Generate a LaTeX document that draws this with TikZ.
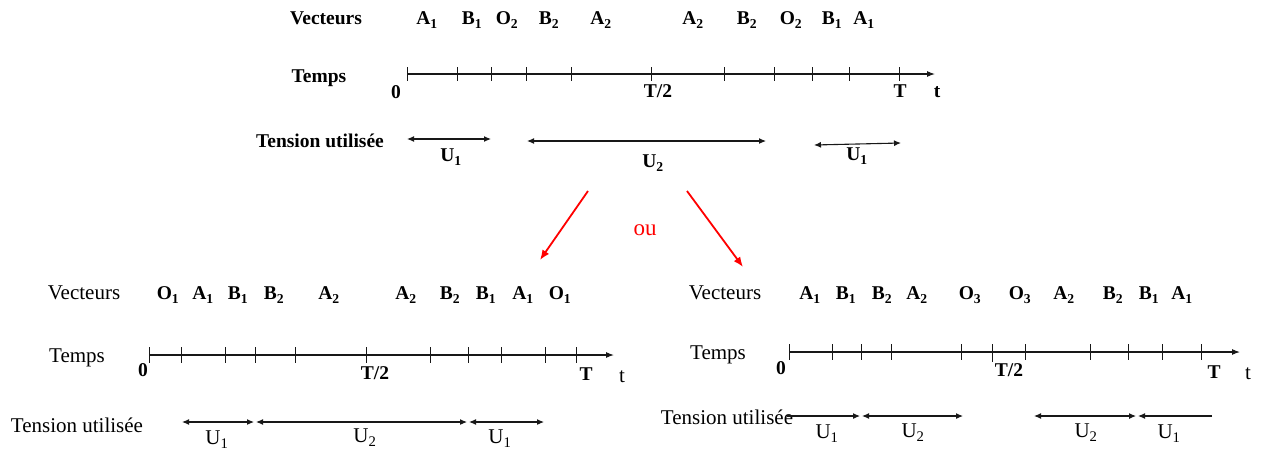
\documentclass[tikz,border=0pt]{standalone}
\usepackage{fontspec}
\setmainfont{Liberation Serif}
\usetikzlibrary{arrows.meta}
\definecolor{diagcolor0001}{RGB}{255,0,0}
\definecolor{diagcolor0002}{RGB}{24,24,24}
\newcommand{\idx}[1]{\textsubscript{\raisebox{-0.25ex}{#1}}}

\begin{document}
\begin{tikzpicture}[yscale=-1
,pstyle0/.style={color=diagcolor0002,line width=1.1pt,-{Latex[length=8pt,width=6pt]}}
,pstyle1/.style={color=diagcolor0002,line width=0.9pt}
,pstyle2/.style={color=diagcolor0002,line width=1.1pt,{Latex[length=7pt,width=6pt]}-{Latex[length=7pt,width=6pt]}}
,pstyle3/.style={color=diagcolor0002,line width=1.1pt,-{Latex[length=7pt,width=6pt]}}
,pstyle4/.style={color=diagcolor0001,line width=1.8pt,-{Latex[length=10pt,width=8pt]}}
,bstyle/.style={anchor=base,inner sep=0,font=\fontsize{19.5}{22}\selectfont\bfseries}
,rstyle/.style={anchor=base,inner sep=0,font=\fontsize{21}{24}\selectfont}
]
\useasboundingbox (0pt,0pt) rectangle (1263pt,450pt);
\node[bstyle] (tvec) at (326pt,24pt) {Vecteurs};
\node[bstyle] (tv1) at (427pt,24pt) {A\idx{1}};
\node[bstyle] (tv2) at (472pt,24pt) {B\idx{1}};
\node[bstyle] (tv3) at (507pt,24pt) {O\idx{2}};
\node[bstyle] (tv4) at (549pt,24pt) {B\idx{2}};
\node[bstyle] (tv5) at (601pt,24pt) {A\idx{2}};
\node[bstyle] (tv6) at (693pt,24pt) {A\idx{2}};
\node[bstyle] (tv7) at (747pt,24pt) {B\idx{2}};
\node[bstyle] (tv8) at (791pt,24pt) {O\idx{2}};
\node[bstyle] (tv9) at (832pt,24pt) {B\idx{1}};
\node[bstyle] (tv10) at (864pt,24pt) {A\idx{1}};
\node[bstyle] (ttemps) at (319pt,82pt) {Temps};
\coordinate (ta0) at (407pt,74pt);
\coordinate (ta1) at (935pt,74pt);
\draw[pstyle0] (ta0) -- (ta1);
\draw[pstyle1] (407pt,67pt) -- (407pt,81pt) (457pt,67pt) -- (457pt,81pt) (491pt,67pt) -- (491pt,81pt) (526pt,67pt) -- (526pt,81pt) (571pt,67pt) -- (571pt,81pt) (651pt,67pt) -- (651pt,81pt) (724pt,67pt) -- (724pt,81pt) (774pt,67pt) -- (774pt,81pt) (812pt,67pt) -- (812pt,81pt) (849pt,67pt) -- (849pt,81pt) (899pt,67pt) -- (899pt,81pt);
\node[bstyle] (tzero) at (396pt,98pt) {0};
\node[bstyle] (thalf) at (658pt,97pt) {T/2};
\node[bstyle] (tend) at (900pt,97pt) {T};
\node[bstyle] (tt) at (937pt,97pt) {t};
\node[bstyle] (tten) at (320pt,147pt) {Tension utilisée};
\coordinate (tu1a) at (407pt,139pt);
\coordinate (tu1b) at (491pt,139pt);
\coordinate (tu2a) at (527pt,141pt);
\coordinate (tu2b) at (766pt,141pt);
\coordinate (tu3a) at (814pt,145pt);
\coordinate (tu3b) at (901pt,143pt);
\draw[pstyle2] (tu1a) -- (tu1b);
\draw[pstyle2] (tu2a) -- (tu2b);
\draw[pstyle2] (tu3a) -- (tu3b);
\node[bstyle] (tu1) at (451pt,161pt) {U\idx{1}};
\node[bstyle] (tu2) at (653pt,167pt) {U\idx{2}};
\node[bstyle] (tu3) at (857pt,160pt) {U\idx{1}};
\coordinate (ra0) at (588pt,191pt);
\coordinate (ra1) at (540pt,260pt);
\coordinate (rb0) at (687pt,191pt);
\coordinate (rb1) at (743pt,267pt);
\draw[pstyle4] (ra0) -- (ra1);
\draw[pstyle4] (rb0) -- (rb1);
\node[anchor=base,inner sep=0,color=diagcolor0001,font=\fontsize{23}{25}\selectfont] (ou) at (645pt,235pt) {ou};
\node[rstyle] (lvec) at (84pt,299pt) {Vecteurs};
\node[bstyle] (lv1) at (168pt,299pt) {O\idx{1}};
\node[bstyle] (lv2) at (203pt,299pt) {A\idx{1}};
\node[bstyle] (lv3) at (238pt,299pt) {B\idx{1}};
\node[bstyle] (lv4) at (274pt,299pt) {B\idx{2}};
\node[bstyle] (lv5) at (329pt,299pt) {A\idx{2}};
\node[bstyle] (lv6) at (406pt,299pt) {A\idx{2}};
\node[bstyle] (lv7) at (450pt,299pt) {B\idx{2}};
\node[bstyle] (lv8) at (486pt,299pt) {B\idx{1}};
\node[bstyle] (lv9) at (523pt,299pt) {A\idx{1}};
\node[bstyle] (lv10) at (560pt,299pt) {O\idx{1}};
\node[rstyle] (ltemps) at (77pt,362pt) {Temps};
\coordinate (la0) at (149pt,355pt);
\coordinate (la1) at (614pt,355pt);
\draw[pstyle0] (la0) -- (la1);
\draw[pstyle1] (149pt,347pt) -- (149pt,363pt) (181pt,347pt) -- (181pt,363pt) (225pt,347pt) -- (225pt,363pt) (255pt,347pt) -- (255pt,363pt) (295pt,347pt) -- (295pt,363pt) (366pt,347pt) -- (366pt,363pt) (430pt,347pt) -- (430pt,363pt) (468pt,347pt) -- (468pt,363pt) (501pt,347pt) -- (501pt,363pt) (545pt,347pt) -- (545pt,363pt) (576pt,347pt) -- (576pt,363pt);
\node[bstyle] (lzero) at (143pt,376pt) {0};
\node[bstyle] (lhalf) at (375pt,379pt) {T/2};
\node[bstyle] (lend) at (586pt,380pt) {T};
\node[rstyle] (lt) at (622pt,382pt) {t};
\node[rstyle] (lten) at (77pt,432pt) {Tension utilisée};
\coordinate (lu1a) at (182pt,422pt);
\coordinate (lu1b) at (254pt,422pt);
\coordinate (lu2a) at (256pt,422pt);
\coordinate (lu2b) at (467pt,422pt);
\coordinate (lu3a) at (469pt,422pt);
\coordinate (lu3b) at (544pt,422pt);
\draw[pstyle2] (lu1a) -- (lu1b);
\draw[pstyle2] (lu2a) -- (lu2b);
\draw[pstyle2] (lu3a) -- (lu3b);
\node[rstyle] (lu1) at (217pt,444pt) {U\idx{1}};
\node[rstyle] (lu2) at (365pt,442pt) {U\idx{2}};
\node[rstyle] (lu3) at (500pt,443pt) {U\idx{1}};
\node[rstyle] (rvec) at (725pt,299pt) {Vecteurs};
\node[bstyle] (rv1) at (810pt,299pt) {A\idx{1}};
\node[bstyle] (rv2) at (846pt,299pt) {B\idx{1}};
\node[bstyle] (rv3) at (882pt,299pt) {B\idx{2}};
\node[bstyle] (rv4) at (917pt,299pt) {A\idx{2}};
\node[bstyle] (rv5) at (970pt,299pt) {O\idx{3}};
\node[bstyle] (rv6) at (1020pt,299pt) {O\idx{3}};
\node[bstyle] (rv7) at (1064pt,299pt) {A\idx{2}};
\node[bstyle] (rv8) at (1113pt,299pt) {B\idx{2}};
\node[bstyle] (rv9) at (1149pt,299pt) {B\idx{1}};
\node[bstyle] (rv10) at (1182pt,299pt) {A\idx{1}};
\node[rstyle] (rtemps) at (718pt,359pt) {Temps};
\coordinate (ra2) at (789pt,352pt);
\coordinate (ra3) at (1240pt,352pt);
\draw[pstyle0] (ra2) -- (ra3);
\draw[pstyle1] (789pt,344pt) -- (789pt,360pt) (832pt,344pt) -- (832pt,360pt) (861pt,344pt) -- (861pt,360pt) (891pt,344pt) -- (891pt,360pt) (961pt,344pt) -- (961pt,360pt) (992pt,344pt) -- (992pt,362pt) (1025pt,344pt) -- (1025pt,360pt) (1090pt,344pt) -- (1090pt,360pt) (1128pt,344pt) -- (1128pt,360pt) (1162pt,344pt) -- (1162pt,360pt) (1201pt,344pt) -- (1201pt,360pt);
\node[bstyle] (rzero) at (781pt,374pt) {0};
\node[bstyle] (rhalf) at (1009pt,376pt) {T/2};
\node[bstyle] (rend) at (1214pt,378pt) {T};
\node[rstyle] (rt) at (1248pt,379pt) {t};
\node[rstyle] (rten) at (727pt,424pt) {Tension utilisée};
\coordinate (ru1a) at (787pt,416pt);
\coordinate (ru1b) at (860pt,416pt);
\coordinate (ru2a) at (862pt,416pt);
\coordinate (ru2b) at (963pt,416pt);
\coordinate (ru3a) at (1034pt,416pt);
\coordinate (ru3b) at (1136pt,416pt);
\coordinate (ru4a) at (1212pt,416pt);
\coordinate (ru4b) at (1138pt,416pt);
\draw[pstyle3] (ru1a) -- (ru1b);
\draw[pstyle2] (ru2a) -- (ru2b);
\draw[pstyle2] (ru3a) -- (ru3b);
\draw[pstyle3] (ru4a) -- (ru4b);
\node[rstyle] (ru1) at (827pt,438pt) {U\idx{1}};
\node[rstyle] (ru2) at (913pt,437pt) {U\idx{2}};
\node[rstyle] (ru3) at (1086pt,437pt) {U\idx{2}};
\node[rstyle] (ru4) at (1169pt,438pt) {U\idx{1}};
\end{tikzpicture}
\end{document}
